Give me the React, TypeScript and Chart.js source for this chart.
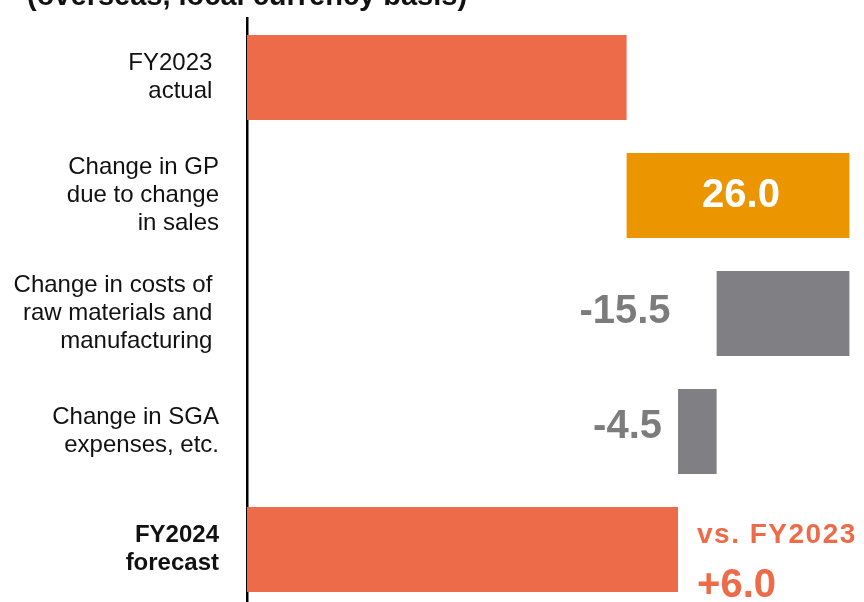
import React, { useEffect, useRef } from "react";
import { Chart, registerables } from "chart.js";

Chart.register(...registerables);

// ---- data ----
const categories: (string | string[])[] = [
  ["FY2023 ", "actual "],
  ["Change in GP", "due to change", "in sales"],
  ["Change in costs of ", "raw materials and ", "manufacturing "],
  ["Change in SGA", "expenses, etc."],
  ["FY2024", "forecast"],
];
const fy2023Actual = 44.3;
const changes = [26.0, -15.5, -4.5];
const titleText = "(overseas, local currency basis)";
const compareText = "vs. FY2023";

// ---- styles ----
const ORANGE = "#ED6B48";
const GOLD = "#EB9500";
const GRAY = "#808084";
const LABEL_GRAY = "#7C7C7C";
const barColors = [ORANGE, GOLD, GRAY, GRAY, ORANGE];
const FONT = "Arial, 'Liberation Sans', sans-serif";

export default function App() {
  const ref = useRef<HTMLCanvasElement | null>(null);

  useEffect(() => {
    if (!ref.current) return;
    const forecast = fy2023Actual + changes.reduce((a, b) => a + b, 0);
    const ranges: [number, number][] = [];
    ranges.push([0, fy2023Actual]);
    let run = fy2023Actual;
    for (const c of changes) {
      ranges.push([run, run + c]);
      run += c;
    }
    ranges.push([0, forecast]);
    const diff = forecast - fy2023Actual;

    const labelPlugin = {
      id: "wfLabels",
      afterDatasetsDraw(chart: any) {
        const ctx = chart.ctx;
        const meta = chart.getDatasetMeta(0);
        const els = meta.data;
        ctx.save();
        ctx.textBaseline = "alphabetic";
        // title
        ctx.fillStyle = "#111";
        ctx.font = `bold 29px ${FONT}`;
        ctx.textAlign = "left";
        ctx.fillText(titleText, 27, 5);

        const big = `bold 40px ${FONT}`;
        // 26.0 inside bar
        {
          const el = els[1];
          ctx.font = big;
          ctx.fillStyle = "#fff";
          ctx.textAlign = "center";
          ctx.fillText(changes[0].toFixed(1), el.x - (el.x - el.base) / 2 + 3, el.y + 11);
        }
        // -15.5
        {
          const el = els[2];
          ctx.font = big;
          ctx.fillStyle = LABEL_GRAY;
          ctx.textAlign = "right";
          ctx.fillText(changes[1].toFixed(1), Math.min(el.x, el.base) - 46, el.y + 9.5);
        }
        // -4.5
        {
          const el = els[3];
          ctx.font = big;
          ctx.fillStyle = LABEL_GRAY;
          ctx.textAlign = "right";
          ctx.fillText(changes[2].toFixed(1), Math.min(el.x, el.base) - 16, el.y + 6.5);
        }
        // vs FY2023 +6.0
        {
          const el = els[4];
          ctx.fillStyle = ORANGE;
          ctx.textAlign = "left";
          ctx.font = `bold 28px ${FONT}`;
          try { (ctx as any).letterSpacing = "1.5px"; } catch (e) {}
          ctx.fillText(compareText, el.x + 19, el.y - 6.5);
          try { (ctx as any).letterSpacing = "0px"; } catch (e) {}
          ctx.font = big;
          ctx.fillText((diff >= 0 ? "+" : "") + diff.toFixed(1), el.x + 19, el.y + 47.5);
        }
        ctx.restore();
      },
    };

    const chart = new Chart(ref.current, {
      type: "bar",
      data: {
        labels: categories,
        datasets: [
          {
            data: ranges as any,
            backgroundColor: barColors,
            borderWidth: 0,
            borderSkipped: false,
            categoryPercentage: 1,
            barPercentage: 0.72,
          },
        ],
      },
      options: {
        indexAxis: "y",
        animation: false,
        responsive: false,
        layout: { padding: { top: 18.5, bottom: 11.5, left: 0, right: 0 } },
        plugins: { legend: { display: false }, tooltip: { enabled: false }, title: { display: false } },
        scales: {
          x: {
            display: false,
            min: 0,
            max: 72,
          },
          y: {
            grid: { display: false, drawTicks: false },
            border: { display: true, color: "#000", width: 2.5 },
            afterFit: (scale: any) => {
              scale.width = 247;
              scale.paddingTop = 0;
              scale.paddingBottom = 0;
            },
            ticks: {
              padding: 28,
              color: "#111",
              font: (c: any) => ({
                family: FONT,
                size: 24,
                lineHeight: 28 / 24,
                weight: c.index === 4 ? "bold" : "normal",
              }),
            },
          },
        },
      },
      plugins: [labelPlugin],
    });
    return () => chart.destroy();
  }, []);

  return (
    <div
      style={{
        position: "fixed",
        left: 0,
        top: 0,
        width: 864,
        height: 602,
        overflow: "hidden",
        background: "#fff",
      }}
    >
      <canvas ref={ref} width={864} height={620} style={{ display: "block" }} />
    </div>
  );
}
